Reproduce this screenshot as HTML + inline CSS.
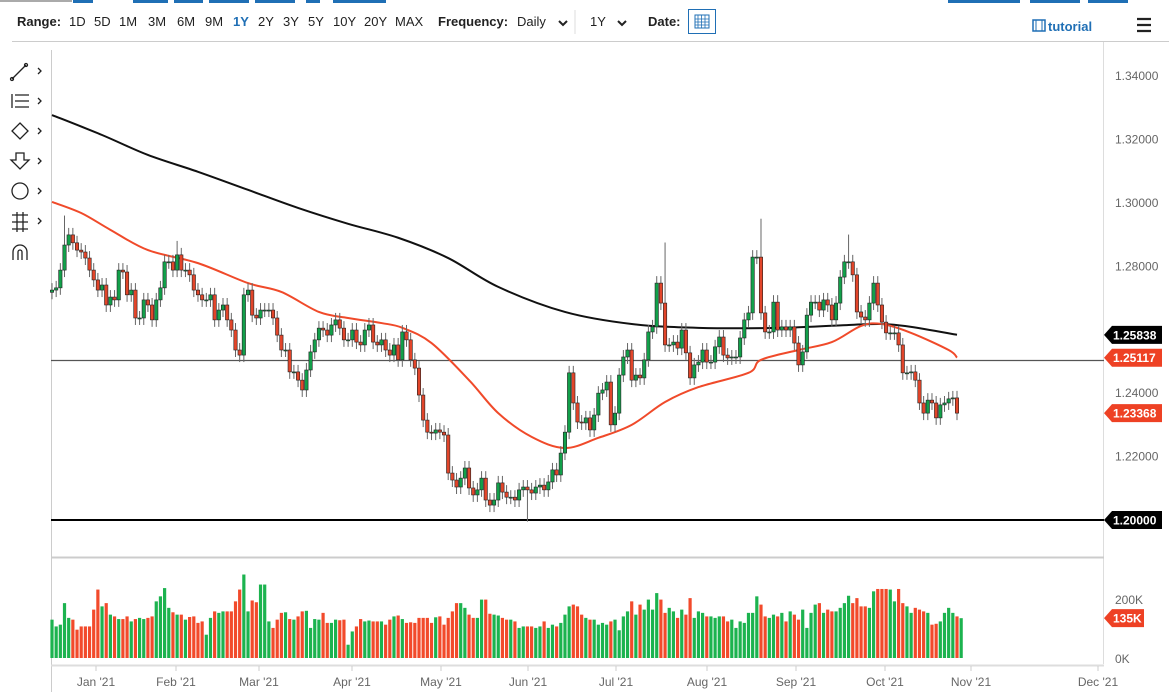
<!DOCTYPE html>
<html><head><meta charset="utf-8">
<style>
body{margin:0;background:#fff;width:1169px;height:699px;overflow:hidden;font-family:"Liberation Sans",sans-serif;}
svg{display:block}
.tb{font-size:13px;fill:#222}
.b{font-weight:bold}
.ax{font-size:12px;fill:#666}
</style></head><body>
<svg id="c" width="1169" height="699" xmlns="http://www.w3.org/2000/svg">
<g>
<rect x="0" y="0" width="72" height="2" fill="#aaa"/>
<rect x="73" y="0" width="20" height="3" fill="#1f6fb5"/>
<rect x="133" y="0" width="35" height="3" fill="#1f6fb5"/>
<rect x="174" y="0" width="29" height="3" fill="#1f6fb5"/>
<rect x="209" y="0" width="40" height="3" fill="#1f6fb5"/>
<rect x="255" y="0" width="40" height="3" fill="#1f6fb5"/>
<rect x="306" y="0" width="14" height="3" fill="#1f6fb5"/>
<rect x="333" y="0" width="53" height="3" fill="#1f6fb5"/>
<rect x="948" y="0" width="72" height="3" fill="#1f6fb5"/>
<rect x="1030" y="0" width="50" height="3" fill="#1f6fb5"/>
<rect x="1088" y="0" width="40" height="3" fill="#1f6fb5"/>
</g>
<g>
<text x="17" y="26" class="tb b">Range:</text>
<text x="69" y="26" class="tb">1D</text>
<text x="94" y="26" class="tb">5D</text>
<text x="119" y="26" class="tb">1M</text>
<text x="148" y="26" class="tb">3M</text>
<text x="177" y="26" class="tb">6M</text>
<text x="205" y="26" class="tb">9M</text>
<text x="233" y="26" class="tb b" style="fill:#1f6fb5">1Y</text>
<text x="258" y="26" class="tb">2Y</text>
<text x="283" y="26" class="tb">3Y</text>
<text x="308" y="26" class="tb">5Y</text>
<text x="333" y="26" class="tb">10Y</text>
<text x="364" y="26" class="tb">20Y</text>
<text x="395" y="26" class="tb">MAX</text>
<text x="438" y="26" class="tb b">Frequency:</text>
<text x="517" y="26" class="tb">Daily</text>
<path d="M559 21l4 4 4-4" stroke="#222" stroke-width="2" fill="none"/>
<line x1="575" y1="10" x2="575" y2="34" stroke="#ddd"/>
<text x="590" y="26" class="tb">1Y</text>
<path d="M618 21l4 4 4-4" stroke="#222" stroke-width="2" fill="none"/>
<text x="648" y="26" class="tb b">Date:</text>
<g>
<rect x="688.5" y="9.5" width="27" height="24" fill="#fff" stroke="#1f6fb5"/>
<rect x="695" y="15" width="14" height="13" fill="none" stroke="#1f6fb5"/>
<path d="M695 19h14M695 22h14M695 25h14M698 15v13M701.5 15v13M705 15v13" stroke="#1f6fb5" stroke-width="0.8"/>
</g>
<g>
<rect x="1033" y="20" width="12" height="11" fill="none" stroke="#1f6fb5" stroke-width="1.5"/>
<path d="M1036 20v11M1042 20v11" stroke="#1f6fb5"/>
<text x="1048" y="31" class="b" style="font-size:13px;fill:#1f6fb5">tutorial</text>
</g>
<path d="M1137 19h14M1137 25h14M1137 31h14" stroke="#222" stroke-width="2.2"/>
</g>
<line x1="12" y1="41.5" x2="1169" y2="41.5" stroke="#ccc"/>
<g stroke="#222" fill="none" stroke-width="1.3">
<g><path d="M12 79l14-14"/><circle cx="12" cy="79" r="1.5"/><circle cx="26" cy="65" r="1.5"/><path d="M38 68l3 3-3 3"/></g>
<g><path d="M12 94v14M15 95h14M15 101h14M15 107h14"/><path d="M38 98l3 3-3 3"/></g>
<g><path d="M20 123l8 8-8 8-8-8z"/><path d="M38 128l3 3-3 3"/></g>
<g><path d="M16 153h8v7h5l-9 9-9-9h5z"/><path d="M38 158l3 3-3 3"/></g>
<g><circle cx="20" cy="191" r="8"/><path d="M38 188l3 3-3 3"/></g>
<g><path d="M12 215h16M12 222h16M12 229h16M17 212v20M23 212v20"/><path d="M38 218l3 3-3 3"/></g>
<g><path d="M13 260v-8a7 7 0 0 1 14 0v8M18 260v-8a2 2 0 0 1 4 0v8"/></g>
</g>
<line x1="51.5" y1="50" x2="51.5" y2="692" stroke="#ccc"/>
<line x1="1103.5" y1="42" x2="1103.5" y2="664" stroke="#ddd"/>
<line x1="51" y1="557.5" x2="1104" y2="557.5" stroke="#ccc" stroke-width="2"/>
<line x1="51" y1="665.5" x2="1104" y2="665.5" stroke="#ddd" stroke-width="2"/>
<g id="yticks"></g>
<line x1="51" y1="360.5" x2="1104" y2="360.5" stroke="#555" stroke-width="1.2"/>
<line x1="51" y1="520" x2="1104" y2="520" stroke="#000" stroke-width="2"/>
<g id="ma"></g>
<g id="candles"></g>
<g id="vols"></g>
<g id="xaxis"></g>
<g id="tags"></g>
</svg>
<script>
const closes=[1.2725,1.2732,1.2788,1.2867,1.2899,1.2874,1.2851,1.2845,1.2826,1.2788,1.2757,1.2725,1.2741,1.2678,1.2703,1.2694,1.2788,1.2782,1.2710,1.2725,1.2637,1.2637,1.2694,1.2678,1.2631,1.2694,1.2732,1.2814,1.2814,1.2788,1.2836,1.2788,1.2788,
1.2773,1.2725,1.2710,1.2694,1.2694,1.2710,1.2631,1.2662,1.2678,1.2631,1.2599,1.2536,1.2520,1.2710,1.2725,1.2646,1.2637,1.2662,1.2662,1.2662,1.2637,1.2583,1.2536,1.2536,1.2467,1.2467,1.2441,1.2410,1.2473,1.2530,1.2568,1.2605,1.2599,1.2583,1.2615,1.2631,1.2605,1.2568,1.2568,1.2599,1.2561,1.2552,1.2599,1.2615,1.2561,1.2552,1.2568,1.2536,1.2520,1.2552,1.2505,1.2593,1.2568,1.2505,1.2479,
1.2394,1.2315,1.2277,1.2274,1.2284,1.2277,1.2268,1.2148,1.2126,1.2104,1.2132,1.2164,1.2101,1.2079,1.2095,1.2132,1.2063,1.2047,1.2063,1.2117,1.2088,1.2072,1.2072,1.2063,1.2095,1.2104,1.2095,1.2085,1.2104,1.2110,1.2095,1.2120,1.2158,1.2142,1.2211,1.2277,1.2464,1.2369,1.2309,1.2306,1.2322,1.2284,1.2331,1.2400,1.2410,1.2435,1.2300,1.2337,1.2457,1.2514,1.2536,1.2441,1.2457,1.2448,1.2505,1.2593,1.2609,1.2747,1.2684,1.2552,1.2552,1.2561,1.2542,1.2599,1.2527,1.2448,
1.2489,1.2498,1.2536,1.2498,1.2498,1.2546,1.2577,1.2520,1.2511,1.2514,1.2514,1.2574,1.2631,1.2653,1.2829,1.2829,1.2653,1.2593,1.2593,1.2687,1.2599,1.2609,1.2599,1.2609,1.2558,1.2489,1.2530,1.2646,1.2687,1.2687,1.2662,1.2694,1.2678,1.2631,1.2684,1.2766,1.2814,1.2814,1.2773,1.2656,1.2640,1.2631,1.2684,1.2747,1.2678,1.2624,1.2590,1.2590,1.2590,1.2552,1.2464,1.2464,1.2467,1.2441,1.2369,1.2337,1.2378,1.2369,1.2322,1.2363,1.2369,1.2382,1.2385,1.2337];
const firstOpen=1.2718;
const spikeIdx=[3,30,147,170,191,114];
const spikeVal=[1.2960,1.2880,1.2875,1.2950,1.2900,1.1995];
const volumesK=[130,107,113,186,136,130,96,107,107,107,164,232,175,186,147,141,132,132,141,124,132,136,132,136,141,192,209,237,170,155,147,147,130,139,141,119,124,79,136,158,153,158,158,158,192,232,283,158,195,189,249,249,124,102,130,153,155,132,130,141,158,160,102,132,130,153,119,119,130,128,130,45,90,107,132,124,127,124,124,124,113,130,141,144,132,119,121,119,136,136,136,119,138,141,113,136,158,186,186,170,147,136,136,198,198,150,147,144,136,130,130,124,102,107,107,107,102,107,124,102,113,107,119,147,175,181,175,147,136,130,130,113,119,113,124,130,94,141,158,192,147,181,164,198,164,220,198,153,170,158,136,164,147,203,136,158,153,141,141,136,141,141,124,130,102,124,119,153,153,209,181,141,136,147,141,153,124,158,147,130,164,102,153,181,186,153,164,158,158,170,186,211,186,203,175,175,170,226,234,234,234,232,192,234,186,175,153,170,164,158,153,113,116,124,153,170,153,141,135];
const ma50Idx=[0,7,14,23,35,47,55,64,71,79,84,91,100,107,115,123,131,139,147,155,167,170,179,187,194,199,206,215,217];
const ma50Val=[1.3003,1.2968,1.2915,1.2851,1.2810,1.2747,1.2719,1.2656,1.2637,1.2621,1.2606,1.2558,1.2441,1.2337,1.2262,1.2227,1.2259,1.2300,1.2372,1.2419,1.2464,1.2505,1.2536,1.2561,1.2612,1.2618,1.2590,1.2536,1.2512];
const ma200Idx=[0,12,23,35,47,59,71,83,95,107,123,139,155,175,191,199,206,217];
const ma200Val=[1.3277,1.3214,1.3151,1.3098,1.3041,1.2984,1.2934,1.2890,1.2826,1.2735,1.2656,1.2618,1.2606,1.2606,1.2615,1.2618,1.2609,1.2584];
const priceTicks=[1.34,1.32,1.30,1.28,1.24,1.22];
const volTicks=[200,0];
const monthLabels=["Jan '21","Feb '21","Mar '21","Apr '21","May '21","Jun '21","Jul '21","Aug '21","Sep '21","Oct '21","Nov '21","Dec '21"];
const monthTickX=[96,176,259,352,441,528,616,707,796,885,971,1098];
const tagVals=[1.25838,1.25117,1.23368,1.20000];
const tagColors=["#000","#ee4124","#ee4124","#000"];
const lastVolK=135;

const NS="http://www.w3.org/2000/svg";
const Y=p=>520-(p-1.2)*3171.4;
const n=closes.length;
const step=(957-52)/(n-1);
const X=i=>52+i*step;
const VY=v=>658-v*0.295;
function mk(t,a,parent){const e=document.createElementNS(NS,t);for(const k in a)e.setAttribute(k,a[k]);parent.appendChild(e);return e;}
const yt=document.getElementById('yticks');
priceTicks.forEach(p=>{const t=mk('text',{x:1115,y:Y(p)+4,class:'ax'},yt);t.textContent=p.toFixed(5);

});
volTicks.forEach(v=>{const t=mk('text',{x:1115,y:VY(v)+5,class:'ax'},yt);t.textContent=v+'K';

});
function ma(idx,val,color,name){const g=document.getElementById('ma');
const pts=idx.map((i,k)=>[X(i),Y(val[k])]);
let d='M'+pts[0][0]+' '+pts[0][1];
for(let k=0;k<pts.length-1;k++){const p0=pts[k-1]||pts[k],p1=pts[k],p2=pts[k+1],p3=pts[k+2]||p2;
d+=' C'+(p1[0]+(p2[0]-p0[0])/6)+' '+(p1[1]+(p2[1]-p0[1])/6)+' '+(p2[0]-(p3[0]-p1[0])/6)+' '+(p2[1]-(p3[1]-p1[1])/6)+' '+p2[0]+' '+p2[1];}
const e=mk('path',{d:d,stroke:color,'stroke-width':2,fill:'none'},g);

}
ma(ma200Idx,ma200Val,'#111','ma200-line');
ma(ma50Idx,ma50Val,'#f04a2a','ma50-line');
const cg=document.getElementById('candles');const up=[];
for(let i=0;i<n;i++){const o=i?closes[i-1]:firstOpen,c=closes[i];up.push(c>=o);
let hi=Math.max(o,c)+0.0022,lo=Math.min(o,c)-0.0022;
const s=spikeIdx.indexOf(i);if(s>=0){if(spikeVal[s]>hi)hi=spikeVal[s];else lo=spikeVal[s];}
const x=X(i);
const w=mk('line',{x1:x,x2:x,y1:Y(hi),y2:Y(lo),stroke:'#666','stroke-width':1},cg);


const top=Y(Math.max(o,c)),bh=Math.max(1,Y(Math.min(o,c))-top);
const b=mk('rect',{x:x-1.7,y:top,width:3.4,height:bh,fill:c>=o?'#12a04a':'#e2452a',stroke:'#222','stroke-width':0.6},cg);

}
const vg=document.getElementById('vols');
volumesK.forEach((v,i)=>{const x=X(i);const isUp=i<n?up[i]:true;
const r=mk('rect',{x:x-1.6,y:VY(v),width:3.2,height:658-VY(v),fill:isUp?'#1cb34f':'#f24a2b'},vg);

});
const xg=document.getElementById('xaxis');
monthLabels.forEach((m,k)=>{const x=monthTickX[k];
const l=mk('line',{x1:x,x2:x,y1:666,y2:671,stroke:'#ccc'},xg);


const t=mk('text',{x:x,y:686,'text-anchor':'middle',class:'ax'},xg);t.textContent=m;

});
const tg=document.getElementById('tags');
function tag(y,txt,col,w){const p=mk('path',{d:`M1104 ${y} l8 -9 h${w} v18 h-${w} z`,fill:col},tg);


const t=mk('text',{x:1113,y:y+4.5,fill:'#fff','font-weight':'bold','font-size':'12px'},tg);t.textContent=txt;

}
tagVals.forEach((v,k)=>{let y=Y(v);if(k==1)y=Math.max(y,Y(tagVals[0])+20);tag(y,v.toFixed(5),tagColors[k],50);});
tag(VY(lastVolK),lastVolK+'K','#ee4124',32);
</script>
</body></html>
